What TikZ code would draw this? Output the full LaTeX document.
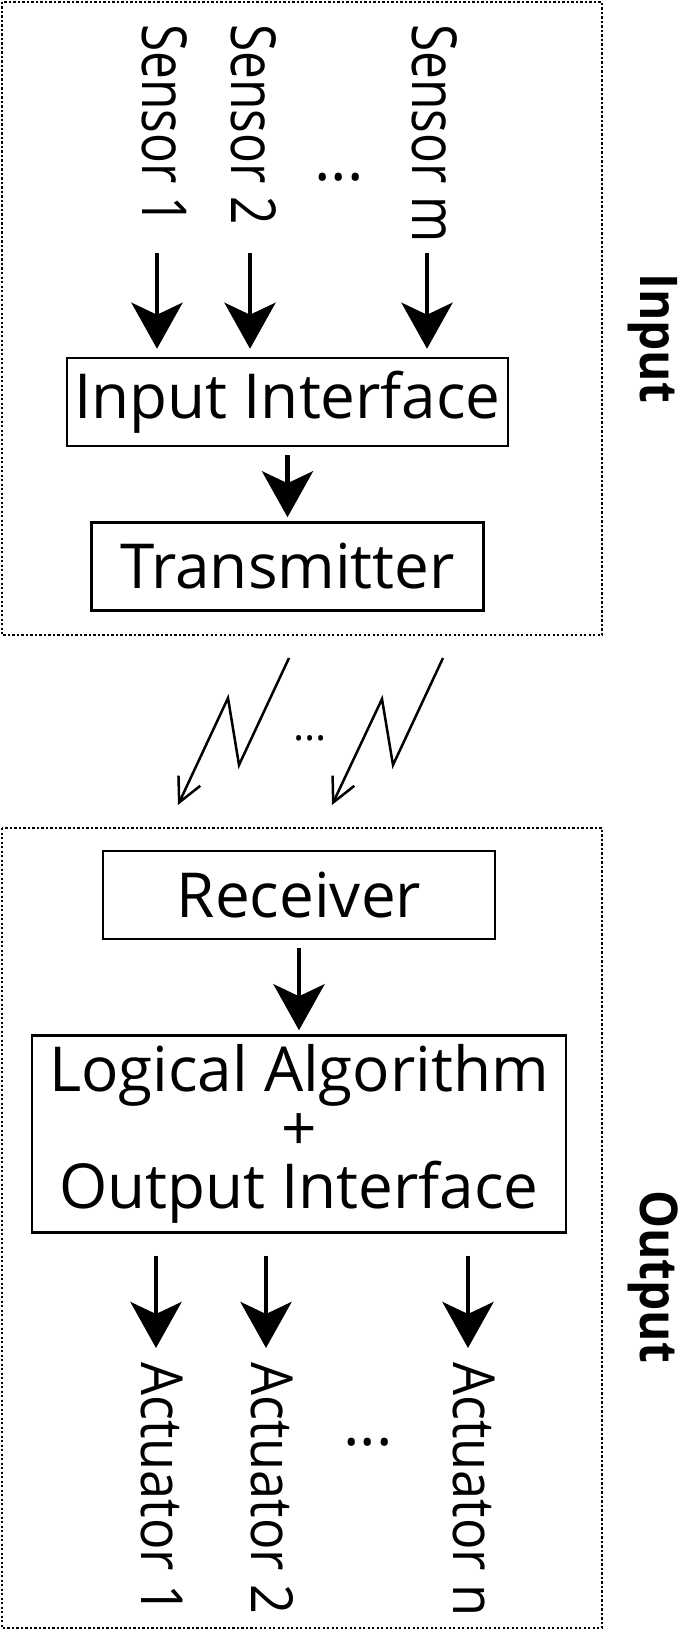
\documentclass[tikz,border=0pt]{standalone}
\usepackage{graphicx}
\usepackage{fontspec}
\setmainfont{Open Sans}
\usetikzlibrary{arrows.meta, positioning}
\newcommand{\squeeze}[2][0.8]{\scalebox{#1}[1]{#2}}
\tikzset{
    box/.style={
        rectangle, draw, line width=2.5pt,
        minimum width=#1, minimum height=88pt, inner sep=0pt,
        font=\fontsize{62}{58.5}\selectfont, align=center
    },
    vtext/.style={rotate=-90, anchor=base west, inner sep=0pt, font=\fontsize{62}{62}\selectfont},
    side/.style={rotate=-90, anchor=base west, inner sep=0pt, font=\fontsize{52}{52}\selectfont\bfseries},
    dots/.style={inner sep=0pt, font=\fontsize{62}{62}\selectfont},
    arr/.style={-{Stealth[length=46pt, width=51pt, inset=12pt]}, line width=4.5pt},
    radio/.style={-{Straight Barb[length=24pt, width=24pt]}, line width=2.5pt, line join=miter},
    frame/.style={line width=2.3pt, dash pattern=on 2.2pt off 2.3pt}
}
\begin{document}
\begin{tikzpicture}[x=1pt, y=-1pt]
    \useasboundingbox (0,0) rectangle (685,1632);

    % Input side
    \draw[frame] (2,2) rectangle (602,635);
    \node[vtext] (s1) at (142,24) {\squeeze{Sensor 1}};
    \node[vtext] (s2) at (231,24) {\squeeze{Sensor 2}};
    \node[vtext] (sm) at (412,24) {\squeeze{Sensor m}};
    \node[dots] (sdots) at (339,177) {...};

    \node[box=441pt] (iface) at (287.5,402) {Input Interface};
    \node[box=392pt, below=74pt of iface] (trans) {Transmitter};

    \coordinate (s1a) at (157,253);
    \coordinate (s2a) at (250,253);
    \coordinate (sma) at (427,253);
    \draw[arr, shorten >=8pt] (s1a) -- (s1a |- iface.north);
    \draw[arr, shorten >=8pt] (s2a) -- (s2a |- iface.north);
    \draw[arr, shorten >=8pt] (sma) -- (sma |- iface.north);
    \draw[arr, shorten <=8pt, shorten >=4pt] (iface) -- (trans);

    \node[side] (inlbl) at (640,273) {\squeeze[0.92]{Input}};

    % Radio link
    \coordinate (w1) at (289,658);
    \coordinate (w2) at (443,658);
    \draw[radio] (w1) -- (239,765) -- (228,698) -- (178,805);
    \draw[radio] (w2) -- (393,765) -- (382,699) -- (332,805);
    \node[dots, font=\fontsize{42}{42}\selectfont] (wdots) at (310,738) {...};

    % Output side
    \draw[frame] (2,828) rectangle (602,1628);
    \node[box=392pt] (recv) at (299,895) {Receiver};
    \node[box=534pt, minimum height=197pt, below=94pt of recv] (logic)
        {Logical Algorithm\\+\\Output Interface};
    \draw[arr, shorten <=8pt, shorten >=4pt] (recv) -- (recv |- logic.north);

    \coordinate (a1) at (156,1348);
    \coordinate (a2) at (266,1348);
    \coordinate (an) at (468,1348);
    \draw[arr, shorten <=22pt] (a1 |- logic.south) -- (a1);
    \draw[arr, shorten <=22pt] (a2 |- logic.south) -- (a2);
    \draw[arr, shorten <=22pt] (an |- logic.south) -- (an);

    \node[vtext, font=\fontsize{58}{58}\selectfont] (act1) at (141,1362) {\squeeze[0.9]{Actuator 1}};
    \node[vtext, font=\fontsize{58}{58}\selectfont] (act2) at (251,1362) {\squeeze[0.9]{Actuator 2}};
    \node[vtext, font=\fontsize{58}{58}\selectfont] (actn) at (453,1362) {\squeeze[0.9]{Actuator n}};
    \node[dots] (adots) at (368,1442) {...};

    \node[side] (outlbl) at (640,1190) {\squeeze[0.92]{Output}};
\end{tikzpicture}
\end{document}
